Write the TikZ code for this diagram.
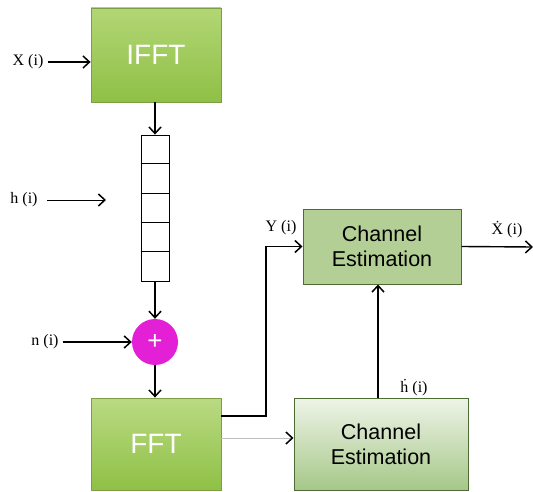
\documentclass[tikz,border=0pt]{standalone}
\usepackage{fontspec}
\setmainfont{Liberation Serif}
\newfontfamily\arialfont{Liberation Sans}
\usetikzlibrary{arrows.meta}
\definecolor{gtop}{HTML}{B2D675}
\definecolor{gbot}{HTML}{8FC046}
\definecolor{gborder}{HTML}{7E9E45}
\definecolor{cefill}{HTML}{B4CF95}
\definecolor{ceborder}{HTML}{4F6B35}
\definecolor{ce2top}{HTML}{EEF4E7}
\definecolor{ce2bot}{HTML}{A6C789}
\definecolor{plusfill}{HTML}{E320D6}
\tikzset{
  x=1pt, y=-1pt,
  tip/.tip={Straight Barb[length=6.5pt,width=12pt,line width=1.5pt]},
  arr/.style={line width=1.4pt, -tip},
  thinarr/.style={line width=0.9pt, -tip},
  fftbox/.style={draw=gborder, line width=0.8pt, top color=gtop, bottom color=gbot, minimum width=130pt, minimum height=94pt, font=\arialfont\fontsize{28}{30}\selectfont, text=white},
  cebox/.style={draw=ceborder, line width=1pt, align=center, font=\arialfont\fontsize{21.5}{25}\selectfont},
  sig/.style={font=\fontsize{16}{18}\selectfont, inner sep=0pt},
}
\begin{document}
\begin{tikzpicture}
\useasboundingbox (0,0) rectangle (533,492);
% blocks
\node[fftbox] (ifft) at (156,55) {IFFT};
\node[fftbox, minimum height=92pt, top color=gtop!90!white, bottom color=gbot] (fft) at (156,444) {FFT};
\node[cebox, fill=cefill, minimum width=158pt, minimum height=75pt] (ce1) at (382,246.5) {Channel\\Estimation};
\node[cebox, top color=ce2top, bottom color=ce2bot, minimum width=174pt, minimum height=92pt] (ce2) at (381,444) {Channel\\Estimation};
% register stack
\node[draw, line width=0.8pt, minimum width=28pt, minimum height=146pt, inner sep=0pt] (stack) at (155,208) {};
\foreach \k in {1,2,3,4} {
  \draw[line width=0.8pt] ([yshift=-29.2*\k pt]stack.north west) -- ([yshift=-29.2*\k pt]stack.north east);
}
% adder
\node[circle, fill=plusfill, minimum size=46pt, inner sep=0pt, text=white, font=\arialfont\fontsize{26}{26}\selectfont] (plus) at (155,342) {+};
% labels
\node[sig] (xin) at (28,62) {X (i)};
\node[sig] (hin) at (24,200) {h (i)};
\node[sig] (nin) at (45,342) {n (i)};
\node[sig] (ylab) at (281,228) {Y (i)};
\node[sig] (hhat) at (414,388) {\.{h} (i)};
\node[sig] (xhat) at (507,230) {\.{X} (i)};
\coordinate (hend) at (106,200);
\coordinate (bend) at (266,416);
\coordinate (out) at (533,247);
% connectors
\draw[arr] ([xshift=4pt]xin.east) -- (xin.east -| ifft.west);
\draw[thinarr] ([xshift=9pt]hin.east) -- (hend);
\draw[arr] (ifft.south -| stack.north) -- (stack.north);
\draw[arr] (stack.south) -- (plus.north);
\draw[arr] ([xshift=4pt]nin.east) -- (plus.west);
\draw[arr] (plus.south) -- (plus.south |- fft.north);
\draw[arr] (fft.east |- bend) -- (bend) |- (ce1.west);
\draw[line width=0.8pt, black!25, -{Straight Barb[length=6.5pt,width=12pt,line width=1.5pt,color=black]}] ([yshift=6pt]fft.east) -- ([yshift=6pt]ce2.west);
\draw[arr] ([xshift=-3pt]ce2.north) -- ([xshift=-3pt]ce2.north |- ce1.south);
\draw[arr] (ce1.east) -- (out);
\end{tikzpicture}
\end{document}
